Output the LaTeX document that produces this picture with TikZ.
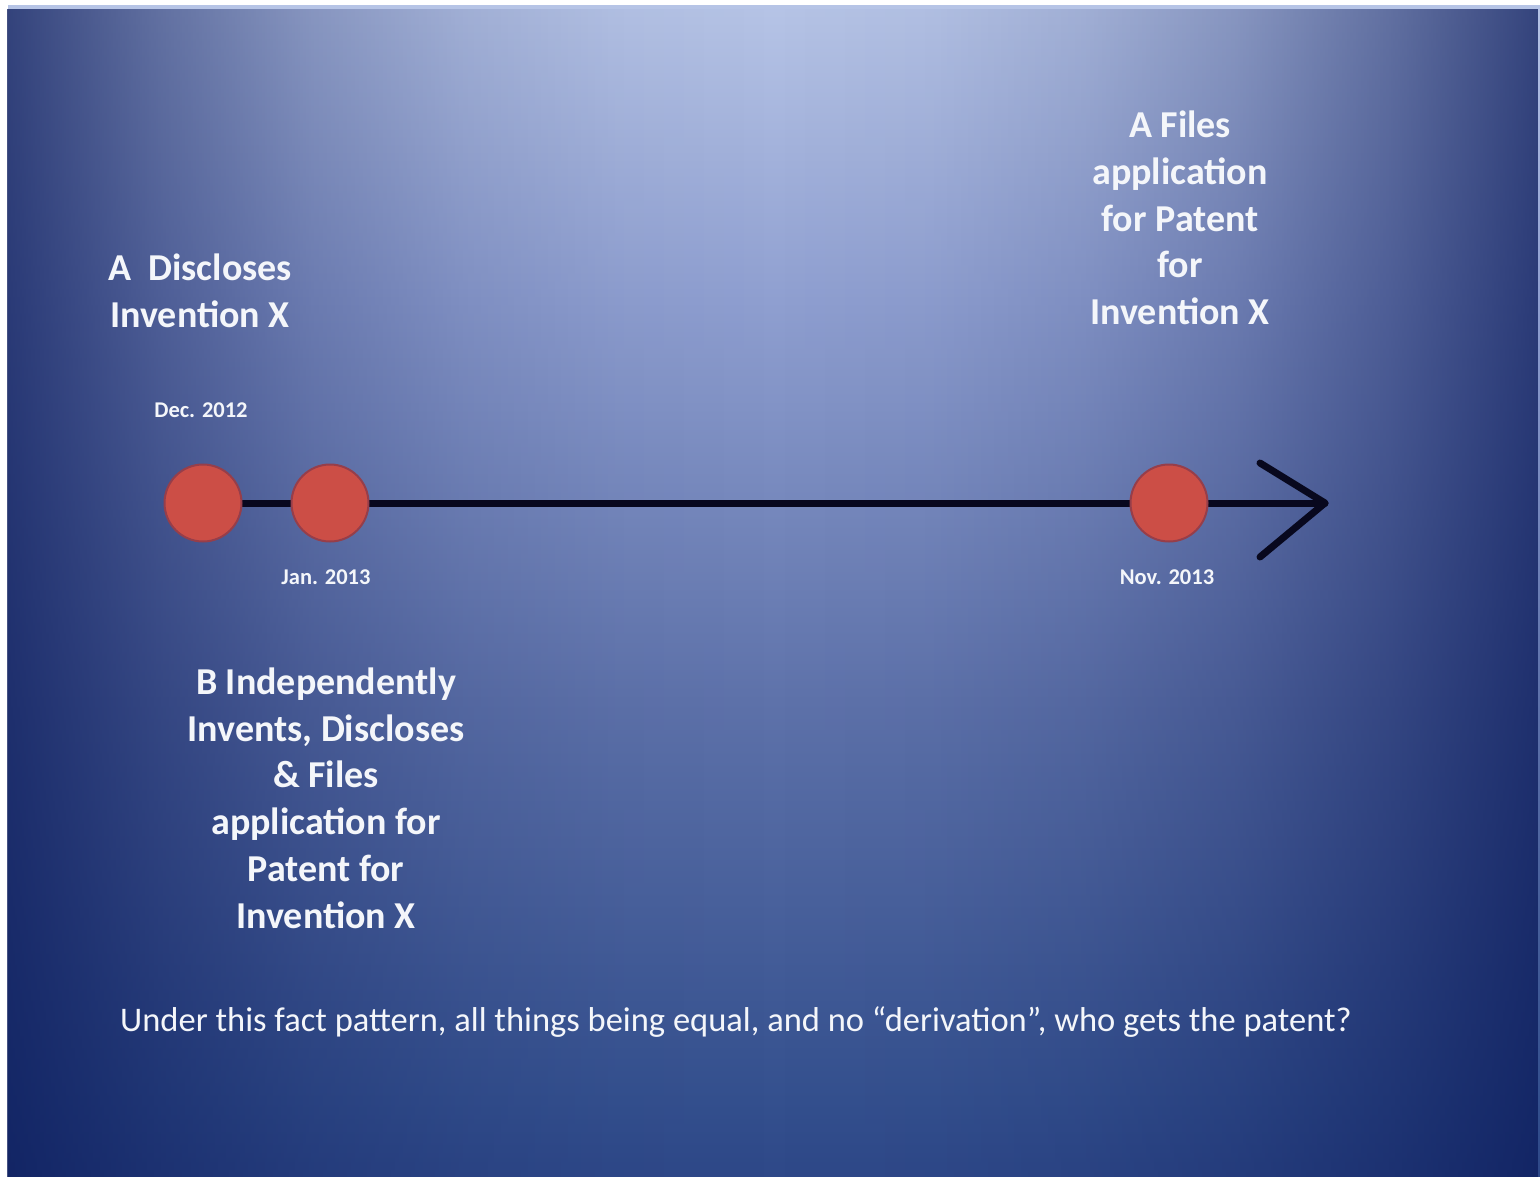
\documentclass[tikz,border=0pt]{standalone}
\usepackage{fontspec}
\setmainfont{Carlito}
\usetikzlibrary{fadings}
\definecolor{vA}{RGB}{46,72,136}
\definecolor{vB}{RGB}{52,80,142}
\definecolor{vC}{RGB}{94,114,170}
\definecolor{vD}{RGB}{143,159,208}
\definecolor{vE}{RGB}{182,196,230}
\definecolor{fa}{gray}{0.03}
\definecolor{fb}{gray}{0.12}
\definecolor{fc}{gray}{0.27}
\definecolor{fd}{gray}{0.49}
\definecolor{fe}{gray}{0.76}
\definecolor{edgenavy}{RGB}{10,26,90}
\definecolor{dotred}{RGB}{204,78,70}
\definecolor{dotedge}{RGB}{150,62,74}
\definecolor{lineblack}{RGB}{8,8,30}
\definecolor{txtwhite}{RGB}{244,246,250}
\pgfdeclareverticalshading{bgshade}{100bp}{color(0bp)=(vA); color(25bp)=(vA); color(28.25bp)=(vB); color(45.3bp)=(vC); color(62.4bp)=(vD); color(75bp)=(vE); color(100bp)=(vE)}
\pgfdeclarehorizontalshading{edgemask}{100bp}{color(0bp)=(fe); color(25bp)=(fe); color(30bp)=(fd); color(35bp)=(fc); color(40bp)=(fb); color(45bp)=(fa); color(50bp)=(black); color(55bp)=(fa); color(60bp)=(fb); color(65bp)=(fc); color(70bp)=(fd); color(75bp)=(fe); color(100bp)=(fe)}
\pgfdeclarefading{edgefade}{\pgfuseshading{edgemask}}
\pgfdeclarelayer{bg}
\pgfdeclarelayer{mid}
\pgfsetlayers{bg,mid,main}
\tikzset{
  dot/.style={circle, minimum size=77pt, inner sep=0pt, fill=dotred, draw=dotedge, line width=2pt},
  lbl/.style={text=txtwhite, font=\fontsize{38}{46.8}\selectfont\bfseries, align=center, inner sep=0pt},
  datelbl/.style={text=txtwhite, font=\fontsize{22.5}{26}\selectfont\bfseries, inner sep=0pt},
  notelbl/.style={text=txtwhite, font=\fontsize{34.5}{40}\selectfont, inner sep=0pt},
  timeline/.style={line width=7pt, draw=lineblack, line cap=round, line join=round},
}
\begin{document}
\begin{tikzpicture}[x=1pt, y=-1pt]
\useasboundingbox (0,0) rectangle (1540,1176);
\begin{pgfonlayer}{bg}
  \fill[white] (0,0) rectangle (1540,1176);
  \shade[shading=bgshade] (8,5) rectangle (1540,1176);
  \fill[edgenavy, path fading=edgefade] (8,5) rectangle (1540,1176);
\end{pgfonlayer}

% timeline points
\node[dot] (dec) at (203,503) {};
\node[dot] (jan) at (330,503) {};
\node[dot] (nov) at (1169,503) {};
\coordinate (tip) at (1325,503);
\coordinate (armup) at (1260,463);
\coordinate (armdown) at (1260,557);

\begin{pgfonlayer}{mid}
  \draw[timeline] (dec.center) -- (jan) -- (nov) -- (tip);
  \draw[timeline] (armup) -- (tip) -- (armdown);
\end{pgfonlayer}

% date labels
\node[datelbl] (decdate) at (201,410) {Dec. 2012};
\node[datelbl] (jandate) at (326,577) {Jan. 2013};
\node[datelbl] (novdate) at (1167,577) {Nov. 2013};

% event labels
\node[lbl] (adisc) at (200,291) {A\ \ Discloses\\Invention X};
\node[lbl] (afiles) at (1180,218) {A Files\\application\\for Patent\\for\\Invention X};
\node[lbl] (binv) at (326,798) {B Independently\\Invents, Discloses\\\& Files\\application for\\Patent for\\Invention X};

% question
\node[notelbl] (question) at (736,1022) {Under this fact pattern, all things being equal, and no “derivation”, who gets the patent?};
\end{tikzpicture}
\end{document}
